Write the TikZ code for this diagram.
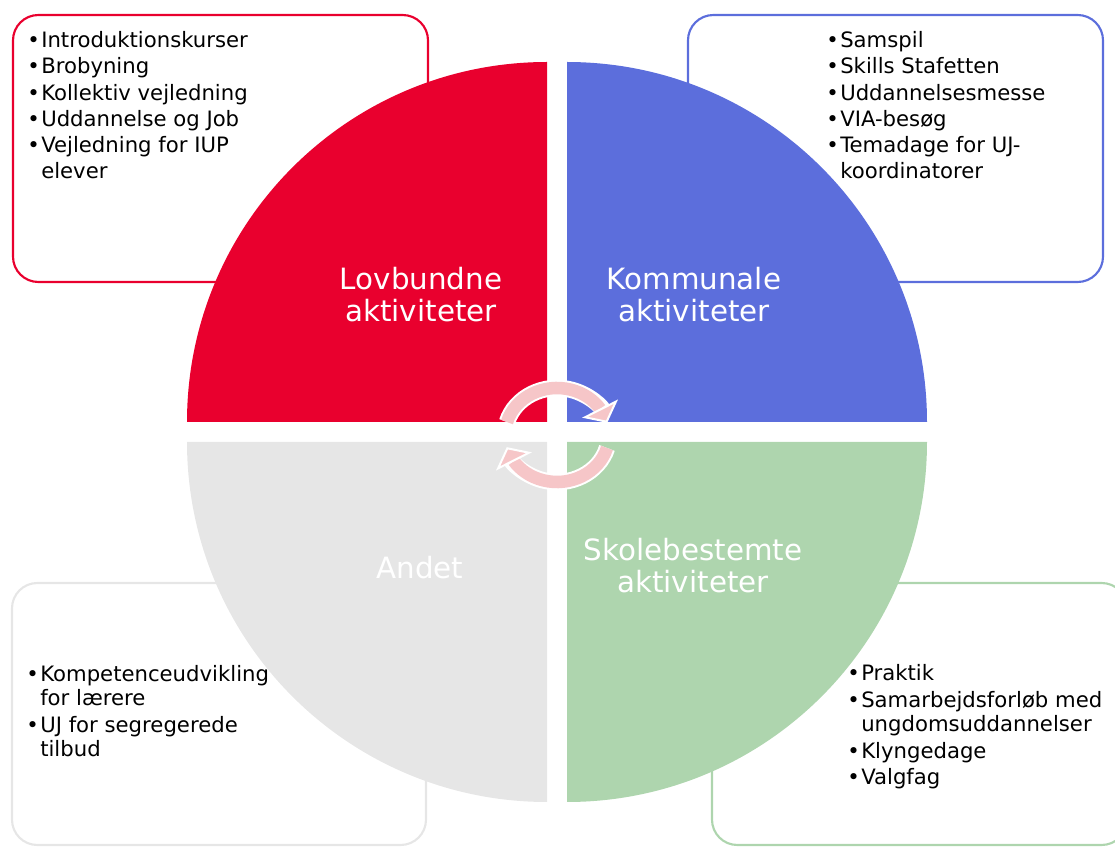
\documentclass[tikz,border=0pt]{standalone}
\usepackage{fontspec}
\setmainfont{DejaVu Sans}
\usetikzlibrary{arrows.meta, bending}
\definecolor{lovred}{RGB}{233,0,46}
\definecolor{kommblue}{RGB}{92,110,220}
\definecolor{skolegreen}{RGB}{174,213,174}
\definecolor{andetgray}{RGB}{230,230,230}
\definecolor{cyclepink}{RGB}{246,198,200}
\newcommand{\blt}{\makebox[10.5pt][l]{\textbullet}}
\newcommand{\ind}{\hspace*{10.5pt}}

\begin{document}
\begin{tikzpicture}[x=0.75pt, y=0.75pt,
    listbox/.style={rounded corners=19pt, line width=1.6pt},
    listtext/.style={anchor=north west, inner sep=0pt, align=left,
        font=\fontsize{15.9pt}{19.8pt}\selectfont},
    quadlabel/.style={text=white, align=center,
        font=\fontsize{22pt}{24pt}\selectfont},
    cyclearrow/.style={line width=9.4pt, cyclepink,
        -{Triangle[width=30pt, length=12pt, fill=cyclepink, color=white, line width=1.5pt, flex]},
        preaction={draw=white, line width=12.4pt, arrows=-, shorten >=9pt}}]
    \useasboundingbox (0,0) rectangle (1115,847);

    % List boxes
    \draw[listbox, lovred] (13,565) rectangle (428,832);
    \draw[listbox, kommblue] (688,565) rectangle (1103,832);
    \draw[listbox, andetgray] (12,2) rectangle (426,264);
    \draw[listbox, skolegreen] (712,2) rectangle (1127,264);

    % Quadrants
    \fill[lovred] (547,425) -- ++(-360,0) arc[start angle=180, end angle=90, radius=360] -- cycle;
    \fill[kommblue] (567,425) -- ++(360,0) arc[start angle=0, end angle=90, radius=360] -- cycle;
    \fill[andetgray] (547,405) -- ++(-360,0) arc[start angle=180, end angle=270, radius=360] -- cycle;
    \fill[skolegreen] (567,405) -- ++(360,0) arc[start angle=0, end angle=-90, radius=360] -- cycle;

    % Quadrant labels
    \node[quadlabel] (lov) at (421,552) {Lovbundne\\aktiviteter};
    \node[quadlabel] (komm) at (694,552) {Kommunale\\aktiviteter};
    \node[quadlabel] (andet) at (420,279) {Andet};
    \node[quadlabel] (skole) at (693,281) {Skolebestemte\\aktiviteter};

    % Cycle arrows
    \draw[cyclearrow] (557,412) ++(164:52 and 47) arc[start angle=164, end angle=15, x radius=52, y radius=47];
    \draw[cyclearrow] (557,412) ++(344:52 and 47) arc[start angle=344, end angle=195, x radius=52, y radius=47];

    % Lists
    \node[listtext] (lovlist) at (27,816) {\blt Introduktionskurser\\ \blt Brobyning\\
        \blt Kollektiv vejledning\\ \blt Uddannelse og Job\\
        \blt Vejledning for IUP\\[-0.75pt] \ind elever};
    \node[listtext] (kommlist) at (826,816) {\blt Samspil\\ \blt Skills Stafetten\\
        \blt Uddannelsesmesse\\ \blt VIA-besøg\\
        \blt Temadage for UJ-\\[-0.75pt] \ind koordinatorer};
    \node[listtext] (andetlist) at (26,182) {\blt Kompetenceudvikling\\[-1.5pt] \ind for lærere\\
        \blt UJ for segregerede\\[-1.5pt] \ind tilbud};
    \node[listtext] (skolelist) at (847,182.5) {\blt Praktik\\ \blt Samarbejdsforløb med\\[-1.5pt]
        \ind ungdomsuddannelser\\ \blt Klyngedage\\ \blt Valgfag};
\end{tikzpicture}
\end{document}
